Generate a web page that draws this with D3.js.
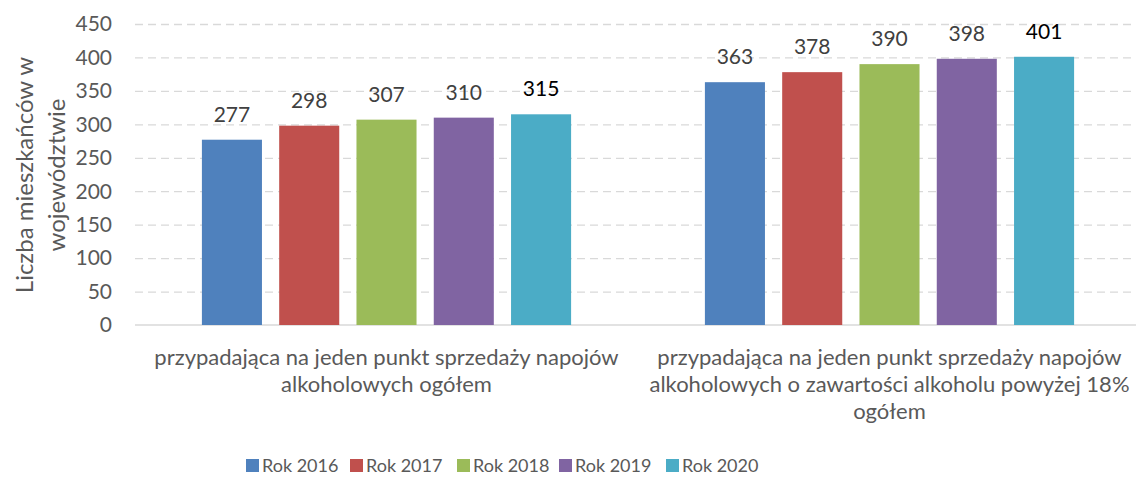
<!DOCTYPE html>
<html>
<head>
<meta charset="utf-8">
<script src="https://cdn.jsdelivr.net/npm/d3@7"></script>
<style>
  body { margin: 0; background: #fff; }
  svg { display: block; font-family: Lato, "Open Sans", sans-serif; }
  .grid line { stroke: #d9d9d9; stroke-dasharray: 8 5; stroke-width: 1.3; }
  .grid .domain { display: none; }
  .tick-label { fill: #595959; font-size: 21px; }
</style>
</head>
<body>
<div id="chart"></div>
<script>
// ── DATA ─────────────────────────────────────────────────────────────────────
const categories = [
  ['przypadająca na jeden punkt sprzedaży napojów', 'alkoholowych ogółem'],
  ['przypadająca na jeden punkt sprzedaży napojów', 'alkoholowych o zawartości alkoholu powyżej 18%', 'ogółem']
];
const years   = ['Rok 2016', 'Rok 2017', 'Rok 2018', 'Rok 2019', 'Rok 2020'];
const values  = [
  [277, 298, 307, 310, 315],
  [363, 378, 390, 398, 401]
];
const yTicks  = [0, 50, 100, 150, 200, 250, 300, 350, 400, 450];
const colors  = ['#4F81BD', '#C0504D', '#9BBB59', '#8064A2', '#4BACC6'];

// ── DIMENSIONS ───────────────────────────────────────────────────────────────
const W = 1136, H = 477;
const plot = { left: 135, right: 1141, top: 24, bottom: 325 };

const svg = d3.select('#chart').append('svg')
  .attr('width', W).attr('height', H);

// ── SCALES ───────────────────────────────────────────────────────────────────
const x0 = d3.scaleBand()
  .domain(d3.range(categories.length))
  .range([plot.left, plot.right])
  .paddingInner(0.266).paddingOuter(0.133);

const x1 = d3.scaleBand()
  .domain(years)
  .range([0, x0.bandwidth()])
  .paddingInner(0.223);

const y = d3.scaleLinear().domain([0, 450]).range([plot.bottom, plot.top]);

// ── GRID ─────────────────────────────────────────────────────────────────────
svg.append('g')
  .attr('class', 'grid')
  .attr('transform', `translate(${plot.left},0)`)
  .call(d3.axisLeft(y).tickValues(yTicks.filter(d => d > 0))
    .tickSize(-(plot.right - plot.left)).tickFormat(''));

svg.append('line')
  .attr('x1', plot.left).attr('x2', plot.right)
  .attr('y1', y(0)).attr('y2', y(0))
  .attr('stroke', '#d9d9d9').attr('stroke-width', 1.3);

// Y tick labels
svg.append('g').selectAll('text')
  .data(yTicks)
  .join('text')
    .attr('class', 'tick-label')
    .attr('x', 112)
    .attr('y', d => y(d))
    .attr('dy', '0.35em')
    .attr('text-anchor', 'end')
    .text(d => d);

// Y axis title
const yTitle = svg.append('text')
  .attr('transform', 'translate(0,175) rotate(-90)')
  .attr('text-anchor', 'middle')
  .attr('fill', '#595959')
  .attr('font-size', 24);
yTitle.append('tspan').attr('x', 0).attr('y', 33).text('Liczba mieszkańców w');
yTitle.append('tspan').attr('x', 0).attr('y', 65).text('województwie');

// ── BARS ─────────────────────────────────────────────────────────────────────
const groups = svg.append('g').selectAll('g')
  .data(values)
  .join('g')
    .attr('transform', (d, i) => `translate(${x0(i)},0)`);

groups.selectAll('rect')
  .data(d => d.map((v, j) => ({ v, j })))
  .join('rect')
    .attr('x', d => x1(years[d.j]))
    .attr('width', x1.bandwidth())
    .attr('y', d => y(d.v))
    .attr('height', d => y(0) - y(d.v))
    .attr('fill', d => colors[d.j]);

groups.selectAll('text.value')
  .data(d => d.map((v, j) => ({ v, j })))
  .join('text')
    .attr('class', 'value')
    .attr('x', d => x1(years[d.j]) + x1.bandwidth() / 2)
    .attr('y', d => y(d.v) - 18)
    .attr('text-anchor', 'middle')
    .attr('font-size', 21)
    .attr('fill', d => d.j === 4 ? '#000' : '#404040')
    .text(d => d.v);

// ── CATEGORY LABELS ──────────────────────────────────────────────────────────
categories.forEach((lines, i) => {
  const t = svg.append('text')
    .attr('text-anchor', 'middle')
    .attr('fill', '#595959')
    .attr('font-size', 22);
  lines.forEach((line, k) => {
    t.append('tspan')
      .attr('x', x0(i) + x0.bandwidth() / 2)
      .attr('y', 365 + k * 27)
      .text(line);
  });
});

// ── LEGEND ───────────────────────────────────────────────────────────────────
const legendX = [246, 350, 457, 559, 666];
const legend = svg.append('g').selectAll('g')
  .data(years)
  .join('g')
    .attr('transform', (d, i) => `translate(${legendX[i]},466)`);

legend.append('rect')
  .attr('x', 0).attr('y', -7)
  .attr('width', 13).attr('height', 13)
  .attr('fill', (d, i) => colors[i]);

legend.append('text')
  .attr('x', 16)
  .attr('dy', '0.35em')
  .attr('font-size', 18)
  .attr('fill', '#595959')
  .text(d => d);
</script>
</body>
</html>
